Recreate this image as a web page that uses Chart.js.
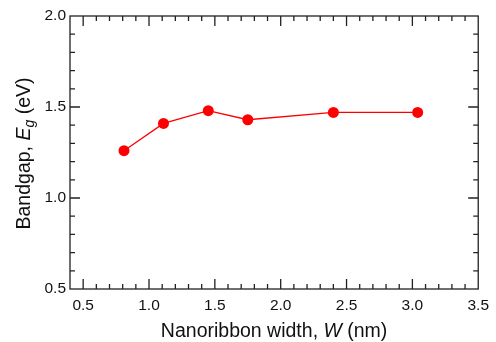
<!DOCTYPE html>
<html>
<head>
<meta charset="utf-8">
<script src="https://cdn.jsdelivr.net/npm/chart.js@4"></script>
<style>
html,body{margin:0;padding:0;background:#fff;}
#wrap{width:496px;height:342px;position:relative;}
</style>
</head>
<body>
<div id="wrap"><canvas id="c" width="496" height="342"></canvas></div>
<script>
// Data
const ribbonWidths = [0.81, 1.11, 1.45, 1.75, 2.40, 3.04];
const bandgaps = [1.26, 1.41, 1.48, 1.43, 1.47, 1.47];
const xTickValues = [0.5, 1.0, 1.5, 2.0, 2.5, 3.0, 3.5];
const yTickValues = [0.5, 1.0, 1.5, 2.0];
const xTitleParts = [["Nanoribbon width, ", ""], ["W", "italic"], [" (nm)", ""]];
const yTitleParts = [["Bandgap, ", ""], ["E", "italic"], ["g", "italic sub"], [" (eV)", ""]];

const FONT = '"Liberation Sans", Arial, Helvetica, sans-serif';
const AXIS = '#222';

function drawRich(ctx, parts, size) {
  let total = 0;
  const widths = parts.map(p => {
    const sub = p[1].includes('sub');
    const sz = sub ? size * 0.72 : size;
    ctx.font = (p[1].includes('italic') ? 'italic ' : '') + sz + 'px ' + FONT;
    const w = ctx.measureText(p[0]).width;
    total += w;
    return w;
  });
  let x = -total / 2;
  parts.forEach((p, i) => {
    const sub = p[1].includes('sub');
    const sz = sub ? size * 0.72 : size;
    ctx.font = (p[1].includes('italic') ? 'italic ' : '') + sz + 'px ' + FONT;
    ctx.fillText(p[0], x, sub ? size * 0.25 : 0);
    x += widths[i];
  });
}

const framePlugin = {
  id: 'frame',
  afterDraw(chart) {
    const ctx = chart.ctx;
    const a = chart.chartArea;
    const xs = chart.scales.x, ys = chart.scales.y;
    ctx.save();
    ctx.strokeStyle = AXIS;
    ctx.lineWidth = 1.3;
    ctx.strokeRect(a.left, a.top, a.right - a.left, a.bottom - a.top);
    ctx.beginPath();
    for (let i = Math.ceil(xs.min * 10); i <= Math.floor(xs.max * 10); i++) {
      const px = xs.getPixelForValue(i / 10);
      if (px <= a.left + 1 || px >= a.right - 1) continue;
      const len = (i % 5 === 0) ? 10 : 5;
      ctx.moveTo(px, a.bottom); ctx.lineTo(px, a.bottom - len);
      ctx.moveTo(px, a.top); ctx.lineTo(px, a.top + len);
    }
    for (let i = Math.ceil(ys.min * 10); i <= Math.floor(ys.max * 10); i++) {
      const py = ys.getPixelForValue(i / 10);
      if (py <= a.top + 1 || py >= a.bottom - 1) continue;
      const len = (i % 5 === 0) ? 10 : 5;
      ctx.moveTo(a.left, py); ctx.lineTo(a.left + len, py);
      ctx.moveTo(a.right, py); ctx.lineTo(a.right - len, py);
    }
    ctx.stroke();

    ctx.fillStyle = '#111';
    ctx.textBaseline = 'alphabetic';
    ctx.textAlign = 'left';
    ctx.save();
    ctx.translate((a.left + a.right) / 2, 337);
    drawRich(ctx, xTitleParts, 19.5);
    ctx.restore();
    ctx.save();
    ctx.translate(29.5, (a.top + a.bottom) / 2 + 1);
    ctx.rotate(-Math.PI / 2);
    drawRich(ctx, yTitleParts, 19.5);
    ctx.restore();
    ctx.restore();
  }
};

new Chart(document.getElementById('c'), {
  type: 'scatter',
  data: {
    datasets: [{
      data: ribbonWidths.map((x, i) => ({ x: x, y: bandgaps[i] })),
      showLine: true,
      borderColor: '#ff0000',
      backgroundColor: '#ff0000',
      borderWidth: 1.3,
      pointRadius: 5.5,
      pointHoverRadius: 5.5,
      pointBorderWidth: 0,
      clip: false
    }]
  },
  options: {
    responsive: false,
    animation: false,
    events: [],
    layout: { padding: { top: 16, right: 17, bottom: 0, left: 0 } },
    plugins: { legend: { display: false }, tooltip: { enabled: false } },
    scales: {
      x: {
        type: 'linear',
        min: 0.4, max: 3.5,
        grid: { display: false, drawTicks: false },
        border: { display: false },
        afterBuildTicks(s) { s.ticks = xTickValues.map(v => ({ value: v })); },
        afterFit(s) { s.height = 53; },
        ticks: {
          padding: 7,
          color: '#111',
          font: { family: FONT, size: 15.5 },
          maxRotation: 0,
          callback: v => Number(v).toFixed(1)
        }
      },
      y: {
        type: 'linear',
        min: 0.5, max: 2.0,
        grid: { display: false, drawTicks: false },
        border: { display: false },
        afterBuildTicks(s) { s.ticks = yTickValues.map(v => ({ value: v })); },
        afterFit(s) { s.width = 70; },
        ticks: {
          padding: 4,
          color: '#111',
          font: { family: FONT, size: 15.5 },
          callback: v => Number(v).toFixed(1)
        }
      }
    }
  },
  plugins: [framePlugin]
});
</script>
</body>
</html>
